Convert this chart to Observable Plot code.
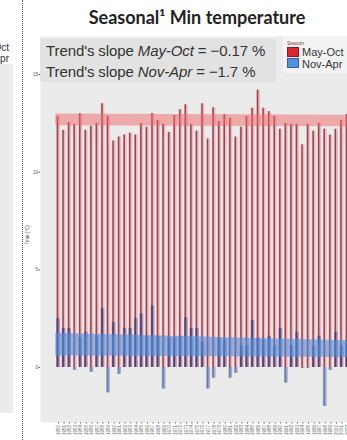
<!DOCTYPE html>
<html><head><meta charset="utf-8">
<script src="https://cdn.jsdelivr.net/npm/d3@7"></script>
<script src="https://cdn.jsdelivr.net/npm/@observablehq/plot@0.6"></script>
<style>
body{margin:0;background:#fff;}
#wrap{position:relative;width:347px;height:440px;overflow:hidden;font-family:"Liberation Sans",Arial,sans-serif;}
#title{position:absolute;left:40px;top:6px;width:314px;text-align:center;font-family:Lato,"Open Sans",sans-serif;font-weight:700;font-size:18px;line-height:22px;color:#222;}
#chart{position:absolute;left:0;top:36px;}
#note{position:absolute;left:40px;top:39px;width:236px;height:43px;background:#e2e2e2;font-size:15px;line-height:21px;color:#333;padding-left:6px;padding-top:1px;box-sizing:border-box;white-space:nowrap;letter-spacing:-0.1px;}
#legend{position:absolute;left:283px;top:37px;width:70px;height:36px;background:#f3f3f3;}
.key{position:absolute;left:4px;width:12px;height:10px;box-sizing:border-box;}
.ltxt{position:absolute;left:19px;font-size:11px;line-height:11px;color:#333;white-space:nowrap;}
#frag{position:absolute;left:0;top:64px;width:13px;height:349px;background:#ebebeb;}
#dots{position:absolute;left:22px;top:0;height:440px;border-left:1px dotted #555;}
.ftxt{position:absolute;right:338px;font-size:10px;line-height:10px;color:#333;white-space:nowrap;}
#ytitle{position:absolute;left:27px;top:235px;font-size:4.5px;color:#444;transform:translate(-50%,-50%) rotate(-90deg);white-space:nowrap;}
</style></head><body>
<div id="wrap">
  <div id="title">Seasonal¹ Min temperature</div>
  <div id="chart"></div>
  <div id="frag"></div>
  <div id="dots"></div>
  <div class="ftxt" style="top:43px">May-Oct</div>
  <div class="ftxt" style="top:54px">Nov-Apr</div>
  <div id="ytitle">Tmin (°C)</div>
  <div id="note">Trend's slope <i>May-Oct</i> = −0.17 %<br>Trend's slope <i>Nov-Apr</i> = −1.7 %</div>
  <div id="legend">
    <div style="position:absolute;left:4px;top:3px;font-size:5px;color:#7a3a3a">Season</div>
    <div class="key" style="top:10px;background:#dd2530;border:1px solid #7a1f2a"></div>
    <div class="key" style="top:21px;background:#4f93e0;border:1px solid #3a5f95"></div>
    <div class="ltxt" style="top:10px">May-Oct</div>
    <div class="ltxt" style="top:22px">Nov-Apr</div>
  </div>
</div>
<script>
const years = [1950,1951,1952,1953,1954,1955,1956,1957,1958,1959,1960,1961,1962,1963,1964,1965,1966,1967,1968,1969,1970,1971,1972,1973,1974,1975,1976,1977,1978,1979,1980,1981,1982,1983,1984,1985,1986,1987,1988,1989,1990,1991,1992,1993,1994,1995,1996,1997,1998,1999,2000,2001,2002];
const mayOct = [12.86,12.14,12.55,12.45,13.0,12.14,12.35,12.5,13.5,12.86,11.6,11.8,11.9,12.0,11.9,12.5,12.3,13.0,12.65,12.45,12.04,12.9,13.2,13.45,12.45,12.1,13.5,11.7,13.3,12.6,12.96,12.76,11.8,12.3,12.86,13.27,14.2,13.27,13.1,12.86,12.2,12.5,12.45,12.45,11.4,12.45,12.1,12.5,12.2,11.9,12.2,12.65,12.96];
const novApr = [2.5,2.0,2.0,-0.15,1.5,1.8,-0.25,1.6,3.0,-1.3,2.3,-0.35,2.0,2.0,2.5,2.75,1.6,3.15,1.6,-1.1,1.5,1.5,1.6,2.55,2.0,2.0,1.3,-1.1,-0.55,1.5,1.4,-0.55,-0.3,1.1,1.1,2.4,1.5,1.4,1.6,1.1,2.0,-0.8,1.1,1.8,-0.05,-0.05,1.1,1.6,-2.0,-0.15,1.8,1.1,1.4];
const trendYears = [1950, 2004];
const mayOctLow = [12.38, 12.32];
const mayOctHigh = [12.98, 12.92];
const novAprLow = [0.6, 0.5];
const novAprHigh = [1.75, 1.35];
const yTicks = [0, 5, 10, 15];

const bars = years.map((y, i) => ({year: y, mayOct: mayOct[i], novApr: novApr[i]}));
const ribbons = trendYears.map((y, i) => ({x: y, rlo: mayOctLow[i], rhi: mayOctHigh[i], blo: novAprLow[i], bhi: novAprHigh[i]}));

const chart = Plot.plot({
  width: 347, height: 404,
  marginTop: 0, marginBottom: 18, marginLeft: 40, marginRight: 0,
  x: {domain: [1947.26, 2002.5]},
  y: {domain: [-2.82, 16.95]},
  color: {type: "identity"},
  style: {background: "transparent", fontFamily: "Liberation Sans, Arial, sans-serif"},
  marks: [
    Plot.frame({fill: "#ebebeb", stroke: null}),
    Plot.rectY(bars, {x1: "year", x2: d => d.year + 1, y1: 0, y2: "mayOct", fill: "#f5b8bb", insetLeft: 0.9, insetRight: 0.9}),
    Plot.ruleX(bars, {x: d => d.year + 0.5, y1: 0, y2: "mayOct", stroke: "#8f4858", strokeWidth: 1.5, dx: -1.0}),
    Plot.rectY(bars, {x1: "year", x2: d => d.year + 1, y1: 0, y2: "novApr", fill: "#4a5aa8", fillOpacity: 0.45, insetLeft: 0.9, insetRight: 0.9}),
    Plot.ruleX(bars, {x: d => d.year + 0.5, y1: 0, y2: "novApr", stroke: d => d.novApr < 0 ? "#6d7ea8" : "#5e3f66", strokeWidth: 1.5, dx: -1.0}),
    Plot.areaY(ribbons, {x: "x", y1: "rlo", y2: "rhi", fill: "#f06a6a", fillOpacity: 0.5}),
    Plot.areaY(ribbons, {x: "x", y1: "blo", y2: "bhi", fill: "#4f8fe0", fillOpacity: 0.6}),
    Plot.axisY({ticks: yTicks, fontSize: 4.5, tickSize: 1.5, tickPadding: 1, color: "#555", label: null}),
    Plot.axisX({ticks: years.map(y => y + 0.5), tickFormat: d => String(d - 0.5), tickRotate: -90, fontSize: 4.5, tickSize: 1.5, tickPadding: 1, color: "#666", label: null})
  ]
});
document.getElementById("chart").appendChild(chart);
</script>
</body></html>
